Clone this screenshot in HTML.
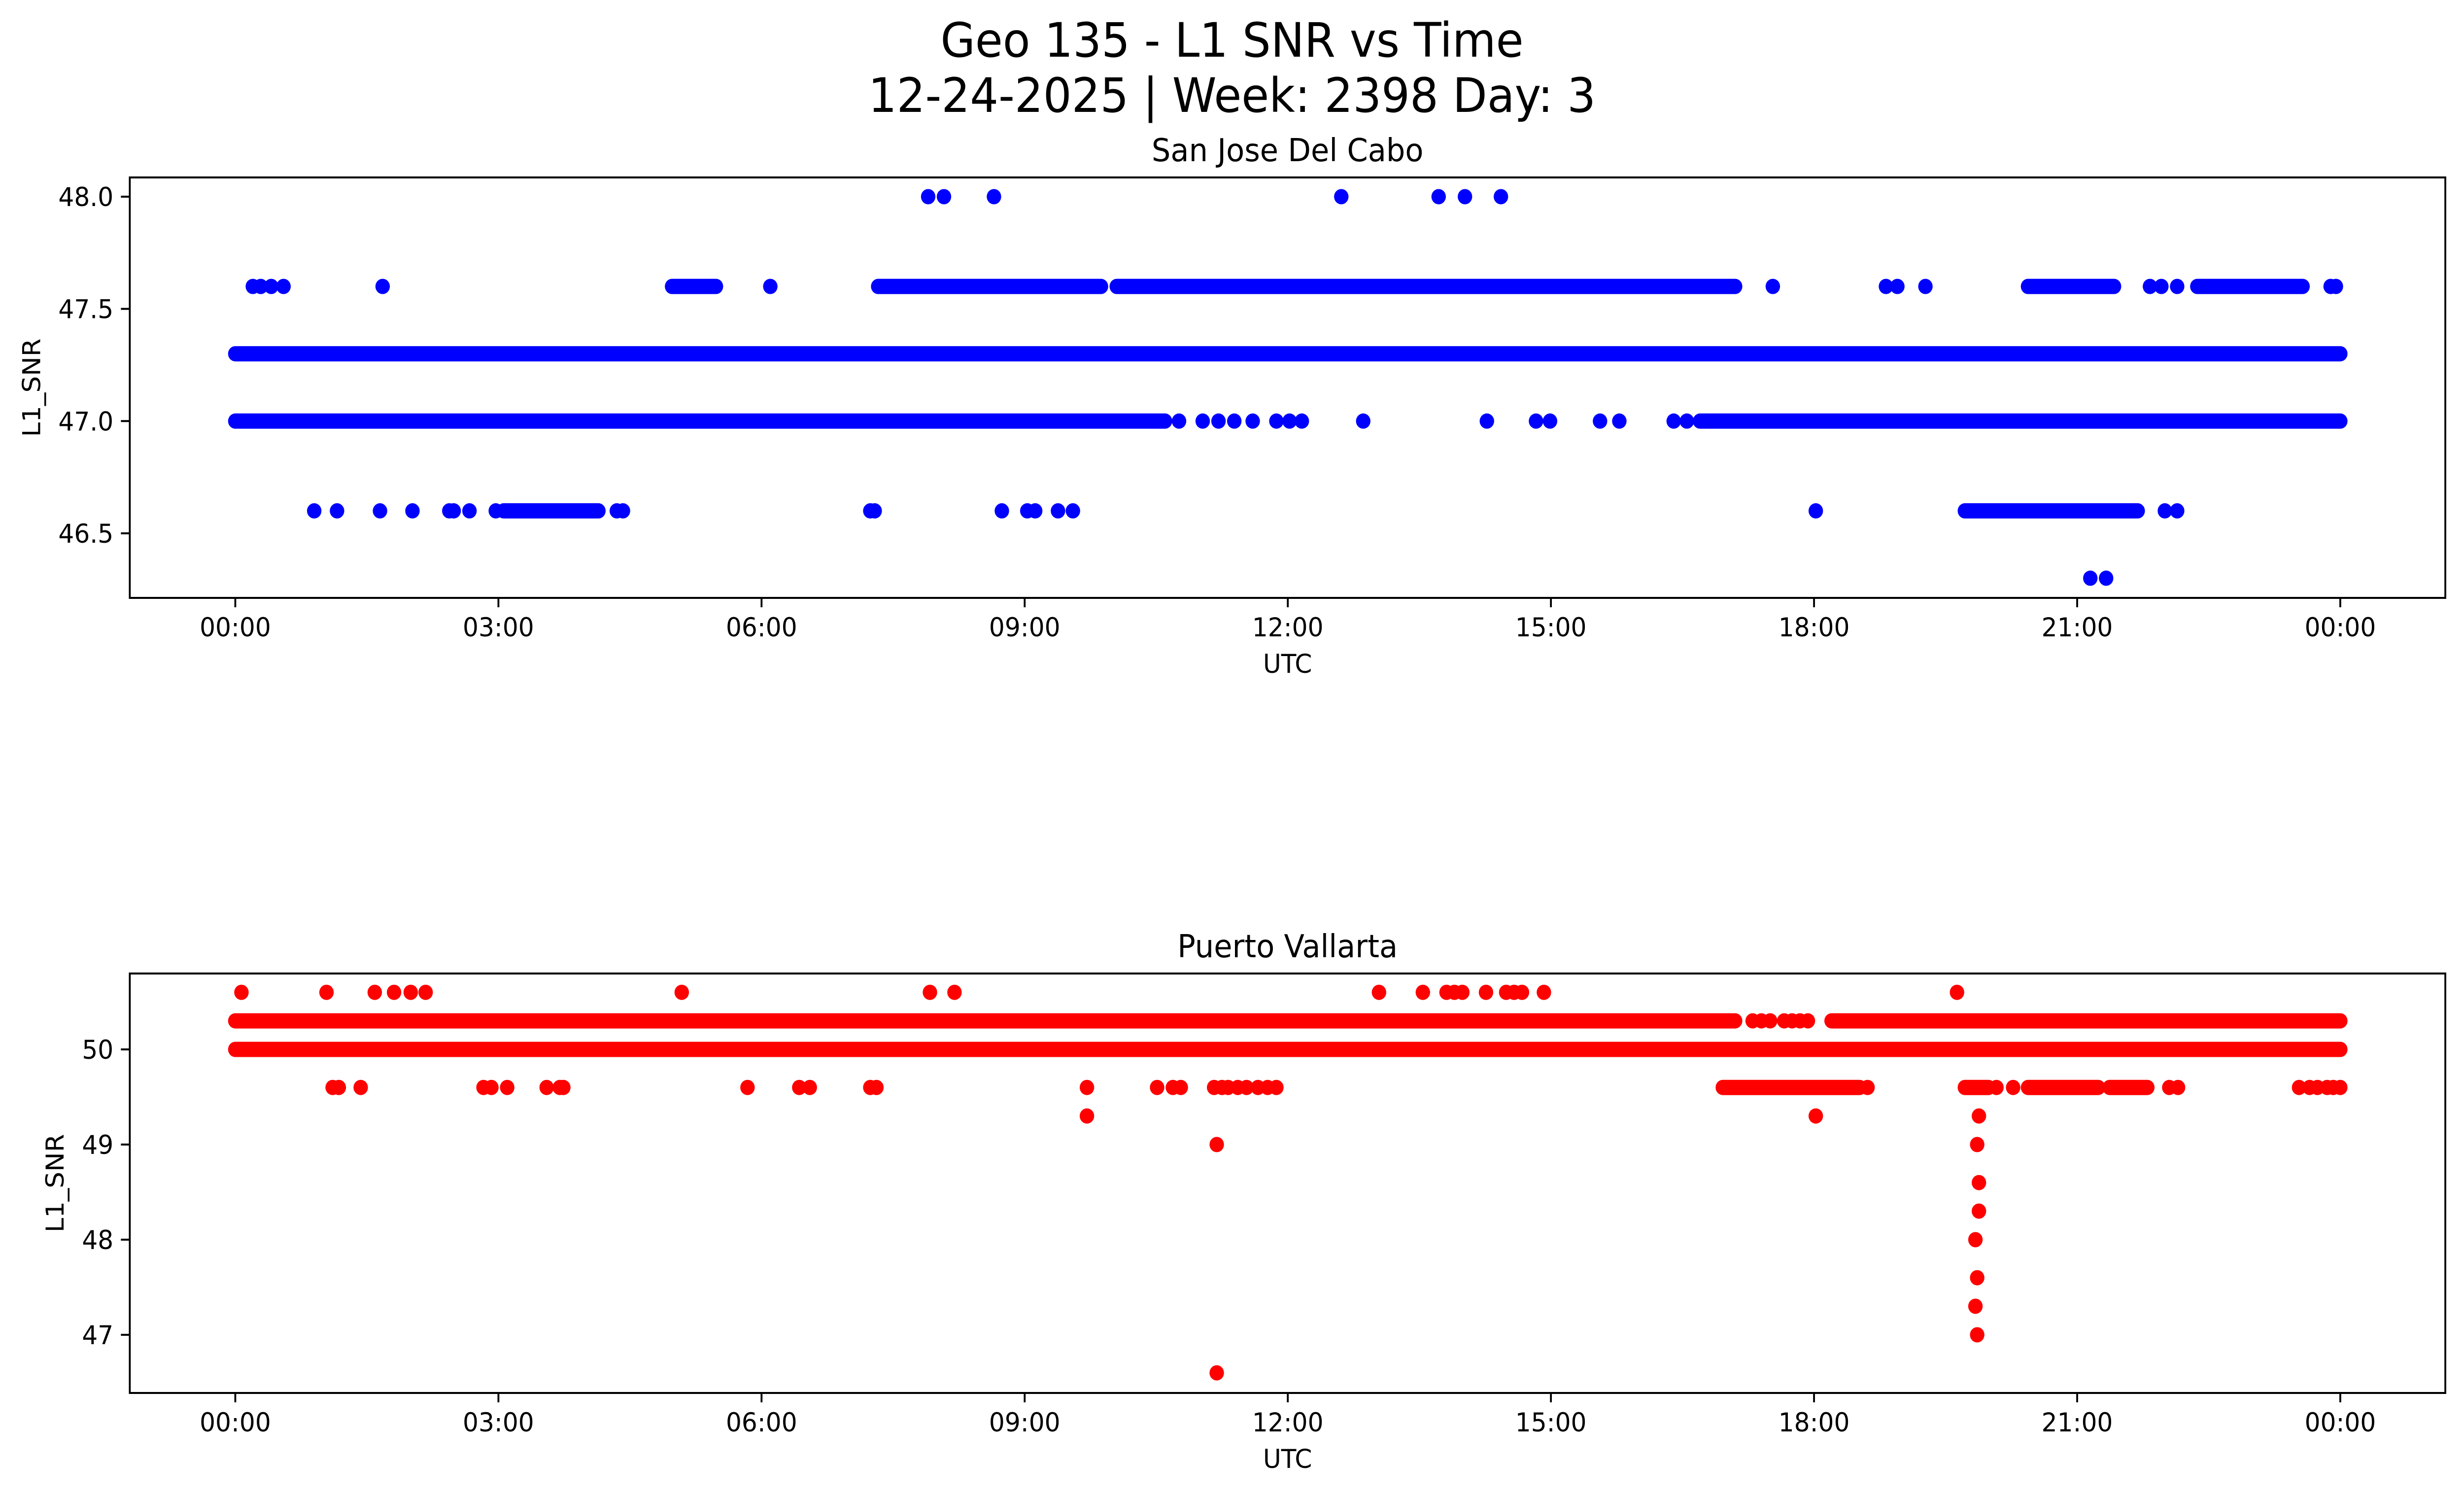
<!DOCTYPE html>
<html><head><meta charset="utf-8"><style>
html,body{margin:0;padding:0;background:#fff;width:100%;height:100%;overflow:hidden;}
svg{display:block;width:100vw;height:100vh;font-family:"DejaVu Sans","Liberation Sans",sans-serif;}
</style></head><body>
<svg id="fig" viewBox="0 0 5278 3033" preserveAspectRatio="none" xmlns="http://www.w3.org/2000/svg">
<rect width="5278" height="3033" fill="#fff"/>
<text x="2639" y="115" font-size="96" text-anchor="middle">Geo 135 - L1 SNR vs Time</text>
<text x="2639" y="227" font-size="96" text-anchor="middle">12-24-2025 | Week: 2398 Day: 3</text>
<g id="top"></g>
<g id="bot"></g>
</svg>
<script>
// ---- data: San Jose Del Cabo (hours UTC) ----
const topLevels = [48.0, 47.6, 47.3, 47.0, 46.6, 46.3];
const topRuns = [
  [],
  [[4.98,5.48],[7.33,9.87],[10.05,17.1],[20.44,21.42],[22.37,23.57]],
  [[0,24]],
  [[0,10.6],[16.7,24]],
  [[3.06,4.14],[19.72,21.69]],
  []
];
const topPoints = [
  [7.9,8.08,8.65,12.61,13.72,14.02,14.43],
  [0.2,0.29,0.41,0.55,1.68,6.1,17.53,18.82,18.95,19.27,21.83,21.96,22.14,23.89,23.95],
  [],
  [10.76,11.03,11.21,11.39,11.6,11.87,12.02,12.16,12.86,14.27,14.83,14.99,15.56,15.78,16.4,16.55],
  [0.9,1.16,1.65,2.02,2.44,2.49,2.67,2.97,4.35,4.42,7.24,7.29,8.74,9.03,9.12,9.38,9.55,18.02,22.0,22.14],
  [21.15,21.33]
];
const topTicks = [48.0, 47.5, 47.0, 46.5];
const topTickLabels = ["48.0","47.5","47.0","46.5"];

// ---- data: Puerto Vallarta ----
const botLevels = [50.6, 50.3, 50.0, 49.6, 49.3, 49.0, 48.6, 48.3, 48.0, 47.6, 47.3, 47.0, 46.6];
const botRuns = [
  [],
  [[0,17.1],[18.2,24]],
  [[0,24]],
  [[16.96,18.52],[19.72,19.99],[20.44,21.24],[21.37,21.8]],
  [],[],[],[],[],[],[],[],[]
];
const botPoints = [
  [0.07,1.04,1.59,1.81,2.0,2.17,5.09,7.92,8.2,13.04,13.54,13.81,13.9,13.99,14.26,14.49,14.58,14.67,14.92,19.63],
  [17.3,17.4,17.5,17.66,17.75,17.84,17.93],
  [],
  [1.11,1.18,1.43,2.83,2.92,3.1,3.55,3.7,3.74,5.84,6.43,6.55,7.24,7.31,9.71,10.51,10.69,10.78,11.16,11.25,11.32,11.43,11.53,11.66,11.77,11.87,18.61,20.08,20.27,22.05,22.15,23.53,23.65,23.74,23.85,23.92,24.0],
  [9.71,18.02,19.88],
  [11.19,19.86],
  [19.88],
  [19.88],
  [19.84],
  [19.86],
  [19.84],
  [19.86],
  [11.19]
];
const botTicks = [50, 49, 48, 47];
const botTickLabels = ["50","49","48","47"];

const xTickHours = [0,3,6,9,12,15,18,21,24];
const xTickLabels = ["00:00","03:00","06:00","09:00","12:00","15:00","18:00","21:00","00:00"];

const NS = "http://www.w3.org/2000/svg";
const X0 = 278, X1 = 5238;
function xScale(h){ return 504 + h/24*(5013-504); }
function mk(tag, attrs, parent){
  const e = document.createElementNS(NS, tag);
  for (const k in attrs) e.setAttribute(k, attrs[k]);
  parent.appendChild(e); return e;
}
function panel(g, top, bottom, yScale, levels, runs, points, ticks, tickLabels, color, title, ylabX){
  const R = 15.5;
  levels.forEach((lv, i) => {
    runs[i].forEach(r => {
      const l = mk('line', {x1:xScale(r[0]), x2:xScale(r[1]), y1:yScale(lv), y2:yScale(lv), stroke:color, 'stroke-width':R*2, 'stroke-linecap':'round'}, g);
      
      
    });
    points[i].forEach(h => {
      const c = mk('circle', {cx:xScale(h), cy:yScale(lv), r:R, fill:color}, g);
      
      
    });
  });
  const fr = mk('rect', {x:X0, y:top, width:X1-X0, height:bottom-top, fill:'none', stroke:'#000', 'stroke-width':4}, g);
  
  
  ticks.forEach((v, i) => {
    const y = yScale(v);
    mk('line', {x1:X0-19, x2:X0, y1:y, y2:y, stroke:'#000', 'stroke-width':4}, g);
    const t = mk('text', {x:X0-35, y:y+19, 'font-size':53, 'text-anchor':'end'}, g);
    t.textContent = tickLabels[i];
    
    
  });
  xTickHours.forEach((h, i) => {
    const x = xScale(h);
    mk('line', {x1:x, x2:x, y1:bottom, y2:bottom+19, stroke:'#000', 'stroke-width':4}, g);
    const t = mk('text', {x:x, y:bottom+78, 'font-size':53, 'text-anchor':'middle'}, g);
    t.textContent = xTickLabels[i];
    
    
  });
  const xl = mk('text', {x:(X0+X1)/2, y:bottom+152, 'font-size':53, 'text-anchor':'middle'}, g);
  xl.textContent = 'UTC';
  
  
  const yc = (top+bottom)/2;
  const yl = mk('text', {x:ylabX+19, y:yc, 'font-size':53, 'text-anchor':'middle', transform:`rotate(-90 ${ylabX+19} ${yc})`}, g);
  yl.textContent = 'L1_SNR';
  
  
  const tt = mk('text', {x:(X0+X1)/2, y:top-33, 'font-size':64, 'text-anchor':'middle'}, g);
  tt.textContent = title;
  
  
}
panel(document.getElementById('top'), 360, 1213, v => 399 + (48 - v)*455.3,
  topLevels, topRuns, topPoints, topTicks, topTickLabels, '#0000ff', 'San Jose Del Cabo', 67);
panel(document.getElementById('bot'), 1975, 2826, v => 2129 + (50 - v)*193,
  botLevels, botRuns, botPoints, botTicks, botTickLabels, '#ff0000', 'Puerto Vallarta', 117);
</script>
</body></html>
